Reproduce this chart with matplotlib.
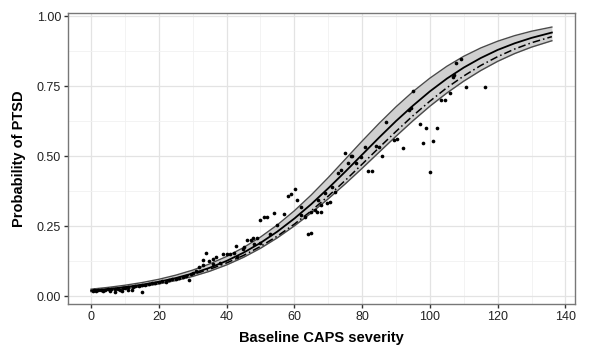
import matplotlib
matplotlib.use("Agg")
import matplotlib.pyplot as plt
from matplotlib.ticker import MultipleLocator, FormatStrFormatter

plt.rcParams['font.family'] = ['Liberation Sans', 'DejaVu Sans']

# Fitted curves read at x = 0, 5, ..., 130, 136
curve_x = [0, 5, 10, 15, 20, 25, 30, 35, 40, 45, 50, 55, 60, 65, 70, 75, 80, 85, 90,
           95, 100, 105, 110, 115, 120, 125, 130, 136]
fit_solid = [0.0198, 0.0252, 0.0320, 0.0405, 0.0512, 0.0645, 0.0809, 0.1011, 0.1257, 0.1551,
             0.190, 0.2306, 0.277, 0.3285, 0.385, 0.444, 0.505, 0.566, 0.625, 0.680,
             0.731, 0.7765, 0.816, 0.850, 0.879, 0.9025, 0.922, 0.941]
fit_dashdot = [0.0198, 0.0250, 0.0315, 0.0395, 0.0496, 0.0620, 0.0772, 0.0958, 0.1184, 0.1453,
               0.1773, 0.2144, 0.257, 0.3046, 0.357, 0.4128, 0.471, 0.5301, 0.588, 0.6441,
               0.696, 0.7439, 0.786, 0.8234, 0.855, 0.8821, 0.9046, 0.9264]
band_upper = [0.0248, 0.0311, 0.0388, 0.0483, 0.0601, 0.0748, 0.0928, 0.1149, 0.1415, 0.1734,
              0.2108, 0.2545, 0.3047, 0.3613, 0.4232, 0.4883, 0.5535, 0.6166, 0.6759, 0.7301,
              0.7782, 0.8205, 0.8563, 0.8860, 0.9101, 0.9299, 0.9458, 0.9606]
band_lower = [0.0158, 0.0204, 0.0263, 0.0339, 0.0435, 0.0555, 0.0704, 0.0888, 0.1114, 0.1385,
              0.1708, 0.2083, 0.2507, 0.2973, 0.3475, 0.4006, 0.4564, 0.5137, 0.5708, 0.6260,
              0.6781, 0.7251, 0.7676, 0.8053, 0.8382, 0.8659, 0.8890, 0.9117]

# Observed points
obs_x = [0.5, 1, 1.5, 2, 3, 3.5, 4, 5, 5.5, 6, 7, 7, 8, 8.5, 9, 9.5, 10, 11, 11, 12,
         12.5, 13, 14, 15, 15, 16, 17, 18, 19, 20, 21, 22, 23, 24, 25, 26, 27, 28, 29, 29.5,
         30, 31,
         31.9, 32.9, 33.9, 34.9, 35.9, 37, 39, 40, 41, 42.1, 42.9, 44.9, 33, 36, 38, 43,
         46.1, 47.1, 47.8, 49, 50, 51, 51.8, 52.8, 53.9, 54.9, 56.9, 48, 50, 45,
         58, 59.1, 60.1, 60.9, 61.9, 63.1, 63.9, 64.9, 66, 66.8, 68, 68, 69.5, 70.4, 71.9,
         69, 67, 72.9, 73.9, 74.9, 75.8, 62, 65, 71,
         76.8, 77, 78.3, 79.8, 80.9, 81.7, 82.8, 84, 84.9, 85.9, 86.9, 89.3, 90.3, 92,
         93.7, 94.5, 95, 97, 97.9, 98.9, 99.9, 101, 102.2,
         103.4, 104.5, 105.8, 106.8, 107, 107.8, 109.2, 110.7, 116.3]
obs_p = [0.020, 0.022, 0.018, 0.021, 0.023, 0.019, 0.022, 0.024, 0.020, 0.025, 0.015, 0.026, 0.027, 0.021, 0.019, 0.029, 0.030, 0.021, 0.031, 0.021,
         0.033, 0.035, 0.036, 0.015, 0.038, 0.040, 0.042, 0.046, 0.048, 0.052, 0.055, 0.050, 0.058, 0.062, 0.060, 0.066, 0.070, 0.072, 0.057, 0.080,
         0.082, 0.090,
         0.105, 0.129, 0.155, 0.126, 0.131, 0.140, 0.150, 0.152, 0.150, 0.155, 0.179, 0.167, 0.110, 0.115, 0.120, 0.140,
         0.200, 0.202, 0.208, 0.206, 0.271, 0.281, 0.281, 0.221, 0.298, 0.254, 0.292, 0.185, 0.190, 0.175,
         0.357, 0.364, 0.381, 0.343, 0.319, 0.281, 0.220, 0.224, 0.307, 0.301, 0.301, 0.325, 0.331, 0.337, 0.371,
         0.367, 0.343, 0.438, 0.452, 0.512, 0.474, 0.290, 0.300, 0.390,
         0.499, 0.500, 0.474, 0.498, 0.533, 0.448, 0.446, 0.536, 0.533, 0.500, 0.622, 0.557, 0.562, 0.530,
         0.666, 0.670, 0.734, 0.615, 0.545, 0.599, 0.444, 0.555, 0.599,
         0.700, 0.700, 0.726, 0.781, 0.790, 0.831, 0.845, 0.747, 0.747]

x_ticks = [0, 20, 40, 60, 80, 100, 120, 140]
y_ticks = [0.00, 0.25, 0.50, 0.75, 1.00]

fig = plt.figure(figsize=(6.02, 3.52), dpi=100)
ax = fig.add_axes([0.113, 0.136, 0.842, 0.827])

ax.fill_between(curve_x, band_lower, band_upper, color='#d0d0d0', zorder=2, linewidth=0)
ax.plot(curve_x, band_upper, color='#4a4a4a', lw=1.0, zorder=3)
ax.plot(curve_x, band_lower, color='#4a4a4a', lw=1.0, zorder=3)
ax.plot(curve_x, fit_solid, color='black', lw=1.3, zorder=4)
ax.plot(curve_x, fit_dashdot, color='black', lw=1.1, zorder=4, dashes=(5, 2, 1, 2))
ax.scatter(obs_x, obs_p, s=7, color='black', zorder=5, linewidths=0)

ax.set_xlim(-6.8, 142.8)
ax.set_ylim(-0.0286, 1.0107)
ax.set_xticks(x_ticks)
ax.set_yticks(y_ticks)
ax.xaxis.set_minor_locator(MultipleLocator(10))
ax.yaxis.set_minor_locator(MultipleLocator(0.125))
ax.yaxis.set_major_formatter(FormatStrFormatter('%.2f'))
ax.grid(True, which='major', color='#e3e3e3', lw=0.9, zorder=0)
ax.grid(True, which='minor', color='#f1f1f1', lw=0.6, zorder=0)
ax.set_axisbelow(True)
ax.tick_params(which='major', direction='out', length=3, width=1, color='#333333',
               labelsize=9, labelcolor='#222222', pad=2)
ax.tick_params(which='minor', length=0)
for s in ax.spines.values():
    s.set_color('#777777')
    s.set_linewidth(1.0)

ax.set_xlabel('Baseline CAPS severity', fontsize=10.5, fontweight='bold', labelpad=6)
ax.set_ylabel('Probability of PTSD', fontsize=10.5, fontweight='bold', labelpad=8)

fig.savefig('out.png', dpi=100)
